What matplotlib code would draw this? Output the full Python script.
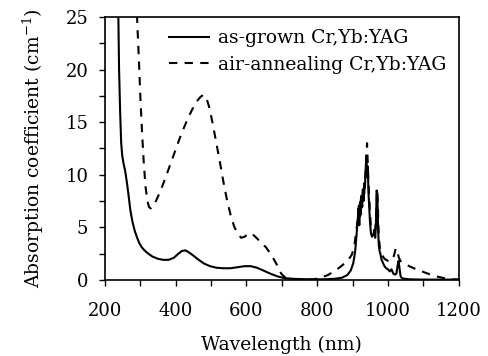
import numpy as np
import matplotlib.pyplot as plt
from matplotlib.ticker import MultipleLocator

# as-grown Cr,Yb:YAG
wl_grown = [236, 238, 240, 243, 246, 249, 253, 257, 262, 267, 272, 278, 284, 290, 297, 304,
            312, 322, 335, 350, 365, 380, 395, 408, 418, 428, 438, 450, 465, 480, 497, 515,
            535, 555, 575, 595, 612, 630, 650, 670, 690, 710, 740, 780, 820, 850, 870, 885,
            895, 902, 907, 911, 914, 917, 919, 921, 923, 925, 927, 929, 931, 933, 935, 937,
            939, 941, 943, 945, 947, 949, 952, 955, 958, 961, 964, 966, 968, 970, 972, 974,
            976, 979, 982, 986, 990, 995, 1000, 1005, 1010, 1015, 1020, 1024, 1027, 1030,
            1033, 1036, 1040, 1048, 1060, 1080, 1120, 1160, 1200]
ab_grown = [27, 25, 20, 16, 13, 11.8, 11.0, 10.4, 9.3, 8.0, 6.6, 5.5, 4.7, 4.1, 3.5, 3.1,
            2.8, 2.5, 2.2, 2.0, 1.9, 1.9, 2.1, 2.5, 2.75, 2.8, 2.6, 2.3, 1.9, 1.55, 1.3, 1.15,
            1.1, 1.1, 1.2, 1.3, 1.3, 1.15, 0.85, 0.55, 0.3, 0.15, 0.08, 0.05, 0.05, 0.1, 0.2, 0.45,
            0.9, 1.6, 2.6, 4.2, 5.5, 6.8, 5.2, 7.4, 6.2, 8.0, 6.9, 8.6, 7.5, 9.2, 8.8, 10.5,
            11.8, 9.8, 10.8, 8.2, 7.0, 5.6, 4.4, 4.1, 4.3, 4.6, 4.0, 5.2, 8.5, 8.2, 5.0, 3.3,
            2.8, 2.4, 1.9, 1.6, 1.3, 1.1, 1.0, 0.8, 1.0, 0.6, 0.5, 0.6, 1.3, 1.8,
            1.0, 0.3, 0.15, 0.1, 0.05, 0.03, 0.02, 0.02, 0.02]

# air-annealing Cr,Yb:YAG
wl_air = [289, 292, 296, 300, 305, 310, 315, 320, 325, 330, 340, 355, 370, 385, 400, 415,
          430, 445, 460, 470, 478, 486, 495, 505, 515, 525, 535, 545, 555, 565, 575, 585,
          595, 605, 615, 625, 640, 655, 670, 685, 698, 710, 730, 760, 790, 810, 830, 850,
          870, 888, 898, 905, 910, 914, 918, 921, 924, 927, 930, 933, 936, 939, 941, 943,
          946, 949, 952, 956, 960, 964, 967, 969, 971, 974, 978, 983, 990, 1000, 1010, 1017,
          1022, 1026, 1030, 1035, 1045, 1060, 1080, 1100, 1120, 1140, 1160, 1180, 1200]
ab_air = [27, 24, 21, 17.5, 14, 11, 8.8, 7.5, 6.9, 6.8, 7.2, 8.3, 9.6, 11.0, 12.4, 13.8,
          15.0, 16.1, 17.0, 17.4, 17.6, 17.4, 16.4, 14.8, 13.0, 11.2, 9.3, 7.6, 6.2, 5.1, 4.4, 4.0,
          4.1, 4.4, 4.4, 4.1, 3.6, 3.1, 2.4, 1.5, 0.6, 0.2, 0.05, 0.02, 0.05, 0.2, 0.45, 0.85,
          1.35, 1.9, 2.4, 3.2, 4.6, 5.6, 7.2, 6.0, 8.0, 7.0, 8.8, 8.2, 9.8, 12.0, 13.0, 11.0,
          8.5, 6.5, 5.0, 4.6, 4.7, 4.8, 6.2, 8.6, 7.6, 4.0, 2.9, 2.4, 2.0, 1.8, 1.8, 2.3,
          3.0, 2.8, 2.2, 1.8, 1.6, 1.3, 1.0, 0.75, 0.5, 0.3, 0.15, 0.05, 0.02]

plt.rcParams['font.family'] = ['DejaVu Serif']
plt.rcParams['mathtext.fontset'] = 'dejavuserif'

fig = plt.figure(figsize=(4.88, 3.56), dpi=100)
ax = fig.add_axes([0.215, 0.214, 0.725, 0.738])

ax.plot(wl_grown, ab_grown, color='black', lw=1.5, label='as-grown Cr,Yb:YAG')
ax.plot(wl_air, ab_air, color='black', lw=1.5, dashes=(4, 3.5), label='air-annealing Cr,Yb:YAG')

ax.set_xlim(200, 1200)
ax.set_ylim(0, 25)
ax.xaxis.set_major_locator(MultipleLocator(200))
ax.xaxis.set_minor_locator(MultipleLocator(100))
ax.yaxis.set_major_locator(MultipleLocator(5))
ax.yaxis.set_minor_locator(MultipleLocator(2.5))
ax.tick_params(which='both', direction='out', length=4, width=1, labelsize=13, top=False, right=False)
ax.tick_params(axis='x', pad=12)
ax.tick_params(axis='y', pad=8)
for s in ax.spines.values():
    s.set_linewidth(1.2)

ax.set_xlabel('Wavelength (nm)', fontsize=13.5, labelpad=11)
ax.set_ylabel('Absorption coefficient (cm$^{-1}$)', fontsize=13.5, labelpad=14)

ax.legend(loc='upper right', frameon=False, fontsize=13.5, handlelength=2.1,
          handletextpad=0.5, borderaxespad=0.25, labelspacing=0.45)

fig.savefig('out.png', dpi=100)
